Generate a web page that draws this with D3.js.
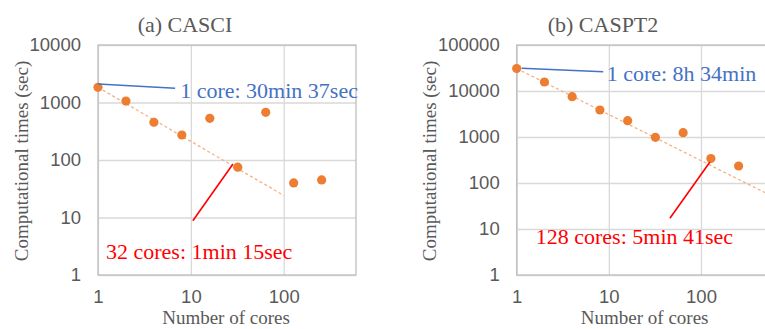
<!DOCTYPE html>
<html>
<head>
<meta charset="utf-8">
<script src="https://cdn.jsdelivr.net/npm/d3@7"></script>
<style>
  html, body { margin: 0; padding: 0; background: #fff; overflow: hidden; }
  svg { display: block; font-family: "Liberation Serif", "Times New Roman", serif; }
</style>
</head>
<body>
<svg id="chart" width="765" height="329"></svg>
<script>
// values
const cores = [1, 2, 4, 8, 16, 32, 64, 128, 256];
const casciTimes = [1837, 1060, 453, 272, 531, 75, 675, 40, 45];
const caspt2Times = [30840, 15700, 7520, 3860, 2260, 985, 1240, 341, 234];
const casciTrend = [[1, 1837], [100, 24.2]];
const caspt2Trend = [[1, 30840], [600, 51]];
const xTicks = [1, 10, 100];
const casciYTicks = [1, 10, 100, 1000, 10000];
const caspt2YTicks = [1, 10, 100, 1000, 10000, 100000];

const panels = [
  {
    title: '(a) CASCI', titleX: 185,
    left: 98, width: 258, yMax: 10000, yTicks: casciYTicks,
    times: casciTimes, trend: casciTrend,
    blue: { line: [[1, 2098], [6.77, 1766]], at: [7.67, 1649], text: '1 core: 30min 37sec' },
    red: { line: [[10.5, 8.8], [28.4, 85]], at: [1.22, 2.54], text: '32 cores: 1min 15sec' },
    yTitleX: 21
  },
  {
    title: '(b) CASPT2', titleX: 603,
    left: 516.7, width: 256, yMax: 100000, yTicks: caspt2YTicks,
    times: caspt2Times, trend: caspt2Trend,
    blue: { line: [[1.13, 31130], [8.69, 26300]], at: [9.47, 24260], text: '1 core: 8h 34min' },
    red: { line: [[46, 17.1], [125, 286]], at: [1.61, 6.8], text: '128 cores: 5min 41sec' },
    yTitleX: 429
  }
];

const plotTop = 45, plotBottom = 275;
const gray = '#595959', orange = '#ED7D31';
const svg = d3.select('#chart');

panels.forEach(p => {
  const x = d3.scaleLog().domain([1, 600]).range([p.left, p.left + p.width]);
  const y = d3.scaleLog().domain([1, p.yMax]).range([plotBottom, plotTop]);
  const g = svg.append('g');

  // gridlines
  g.append('g')
    .attr('transform', `translate(0,${plotBottom})`)
    .call(d3.axisBottom(x).tickValues(xTicks).tickSize(-(plotBottom - plotTop)).tickFormat(''))
    .call(a => a.select('.domain').remove())
    .call(a => a.selectAll('.tick line').attr('stroke', '#d9d9d9').attr('stroke-width', 1.3));
  g.append('g')
    .attr('transform', `translate(${p.left},0)`)
    .call(d3.axisLeft(y).tickValues(p.yTicks).tickSize(-p.width).tickFormat(''))
    .call(a => a.select('.domain').remove())
    .call(a => a.selectAll('.tick line').attr('stroke', '#d9d9d9').attr('stroke-width', 1.3));

  // plot border
  g.append('rect')
    .attr('x', p.left).attr('y', plotTop)
    .attr('width', p.width).attr('height', plotBottom - plotTop)
    .attr('fill', 'none').attr('stroke', '#bfbfbf').attr('stroke-width', 1.3);

  // tick labels
  g.append('g')
    .attr('transform', `translate(0,${plotBottom})`)
    .call(d3.axisBottom(x).tickValues(xTicks).tickSize(0).tickPadding(15).tickFormat(d3.format('d')))
    .call(a => a.select('.domain').remove())
    .call(a => a.selectAll('text').attr('fill', gray).style('font-size', '18.5px').style('font-family', 'inherit'));
  g.append('g')
    .attr('transform', `translate(${p.left},0)`)
    .call(d3.axisLeft(y).tickValues(p.yTicks).tickSize(0).tickPadding(17).tickFormat(d3.format('d')))
    .call(a => a.select('.domain').remove())
    .call(a => a.selectAll('text').attr('fill', gray).style('font-size', '18.5px').style('font-family', 'inherit'));

  // titles
  g.append('text').attr('x', p.titleX).attr('y', 32).attr('text-anchor', 'middle')
    .attr('fill', gray).style('font-size', '22px').text(p.title);
  g.append('text').attr('x', p.left + 128).attr('y', 324).attr('text-anchor', 'middle')
    .attr('fill', gray).style('font-size', '19px').text('Number of cores');
  g.append('text')
    .attr('transform', `translate(${p.yTitleX},${(plotTop + plotBottom) / 2 + 1}) rotate(-90)`)
    .attr('text-anchor', 'middle').attr('dy', '0.35em')
    .attr('fill', gray).style('font-size', '19px').text('Computational times (sec)');

  // trendline
  g.append('path')
    .datum(p.trend)
    .attr('fill', 'none').attr('stroke', '#f4b183').attr('stroke-width', 1.3)
    .attr('stroke-dasharray', '3,2.5')
    .attr('d', d3.line().x(d => x(d[0])).y(d => y(d[1])));

  // points
  g.selectAll('circle')
    .data(cores.map((c, i) => [c, p.times[i]]))
    .enter().append('circle')
    .attr('cx', d => x(d[0])).attr('cy', d => y(d[1]))
    .attr('r', 4.6).attr('fill', orange);

  // annotations
  [['blue', '#4472C4'], ['red', '#FF0000']].forEach(([k, col]) => {
    const a = p[k];
    g.append('path').datum(a.line)
      .attr('fill', 'none').attr('stroke', col).attr('stroke-width', 1.6)
      .attr('d', d3.line().x(d => x(d[0])).y(d => y(d[1])));
    g.append('text')
      .attr('x', x(a.at[0])).attr('y', y(a.at[1])).attr('dy', '0.35em')
      .attr('fill', col).style('font-size', '22px').text(a.text);
  });
});
</script>
</body>
</html>
